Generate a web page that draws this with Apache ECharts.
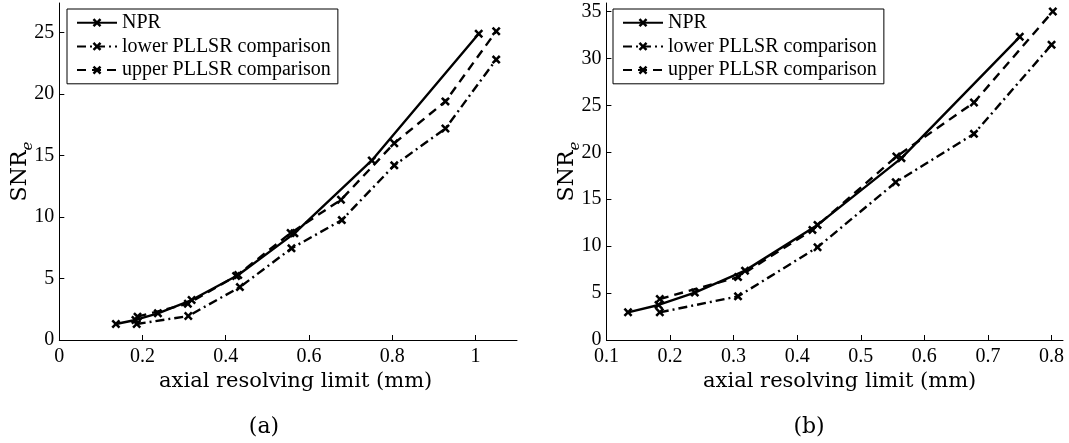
<!DOCTYPE html>
<html>
<head>
<meta charset="utf-8">
<script src="https://cdn.jsdelivr.net/npm/echarts@6/dist/echarts.min.js"></script>
<style>
	html, body { margin: 0; padding: 0; background: #fff; }
	#chart { width: 1069px; height: 443px; }
</style>
</head>
<body>
<div id="chart"></div>
<script>
// panel (a)
var nprXA = [0.136, 0.183, 0.237, 0.318, 0.430, 0.565, 0.751, 1.008];
var nprYA = [1.30, 1.63, 2.17, 3.25, 5.28, 8.67, 14.6, 24.9];
var lowerXA = [0.186, 0.310, 0.434, 0.558, 0.679, 0.805, 0.928, 1.050];
var lowerYA = [1.30, 1.95, 4.30, 7.45, 9.75, 14.2, 17.2, 22.8];
var upperXA = [0.188, 0.309, 0.425, 0.556, 0.677, 0.805, 0.928, 1.050];
var upperYA = [1.90, 2.95, 5.20, 8.70, 11.4, 16.0, 19.4, 25.1];
var xTicksA = [0, 0.2, 0.4, 0.6, 0.8, 1];
var yTicksA = [0, 5, 10, 15, 20, 25];

// panel (b)
var nprXB = [0.134, 0.182, 0.239, 0.318, 0.432, 0.564, 0.750];
var nprYB = [2.95, 3.73, 5.05, 7.39, 12.26, 19.37, 32.3];
var lowerXB = [0.184, 0.307, 0.432, 0.555, 0.678, 0.800];
var lowerYB = [2.95, 4.65, 9.88, 16.8, 21.96, 31.45];
var upperXB = [0.184, 0.307, 0.424, 0.556, 0.678, 0.802];
var upperYB = [4.37, 6.70, 11.73, 19.54, 25.3, 35.0];
var xTicksB = [0.1, 0.2, 0.3, 0.4, 0.5, 0.6, 0.7, 0.8];
var yTicksB = [0, 5, 10, 15, 20, 25, 30, 35];

var names = ['NPR', 'lower PLLSR comparison', 'upper PLLSR comparison'];

// bold x marker
var xMark = 'path://M0,2 L2,0 L5,3 L8,0 L10,2 L7,5 L10,8 L8,10 L5,7 L2,10 L0,8 L3,5 Z';
var tickFont = 'Liberation Serif';
var texFont = 'DejaVu Serif';

function pairs(xs, ys) {
	return xs.map(function(x, i) { return [x, ys[i]]; });
}

function lineSeries(name, xs, ys, dash, idx) {
	return {
		name : name,
		type : 'line',
		xAxisIndex : idx,
		yAxisIndex : idx,
		data : pairs(xs, ys),
		symbol : xMark,
		symbolSize : 9,
		itemStyle : { color : '#000' },
		lineStyle : { color : '#000', width : 2.4, type : dash },
		z : 3
	};
}

function xAxisOf(idx, min, max, ticks, padLeft) {
	return {
		gridIndex : idx,
		type : 'value',
		min : min,
		max : max,
		axisLine : { show : true, lineStyle : { color : '#000', width : 1 } },
		axisTick : { show : true, inside : true, length : 5, customValues : ticks, lineStyle : { color : '#000' } },
		axisLabel : {
			customValues : ticks,
			formatter : function(v) { return '{t|' + v + '}'; },
			rich : { t : { color : '#000', fontFamily : tickFont, fontSize : 20 } },
			margin : 7
		},
		splitLine : { show : false },
		name : 'axial resolving limit (mm)',
		nameLocation : 'middle',
		nameGap : 31,
		nameMoveOverlap : false,
		nameTextStyle : { color : '#000', fontFamily : texFont, fontSize : 21, padding : [0, 0, 0, padLeft] }
	};
}

function yAxisOf(idx, max, ticks, gap) {
	return {
		gridIndex : idx,
		type : 'value',
		min : 0,
		max : max,
		axisLine : { show : true, lineStyle : { color : '#000', width : 1 } },
		axisTick : { show : true, inside : true, length : 5, customValues : ticks, lineStyle : { color : '#000' } },
		axisLabel : {
			customValues : ticks,
			formatter : function(v) { return '{t|' + v + '}'; },
			rich : { t : { color : '#000', fontFamily : tickFont, fontSize : 20 } },
			margin : 5
		},
		splitLine : { show : false },
		name : '{n|SNR}{e|e}',
		nameLocation : 'middle',
		nameGap : gap,
		nameMoveOverlap : false,
		nameTextStyle : {
			rich : {
				n : { fontFamily : texFont, fontSize : 22, color : '#000', lineHeight : 30, verticalAlign : 'middle' },
				e : { fontFamily : texFont, fontSize : 15, fontStyle : 'italic', color : '#000', lineHeight : 12, verticalAlign : 'bottom' }
			}
		}
	};
}

function legendOf(left) {
	return {
		data : names,
		orient : 'vertical',
		left : left,
		top : 9,
		itemWidth : 40,
		itemHeight : 11,
		itemGap : 3.7,
		padding : [3.7, 7, 3.7, 9],
		borderColor : '#000',
		borderWidth : 1,
		borderRadius : 0,
		backgroundColor : '#fff',
		textStyle : { color : '#000', fontFamily : tickFont, fontSize : 20, lineHeight : 20 }
	};
}

var myChart = echarts.init(document.getElementById('chart'));
var option = {
	animation : false,
	backgroundColor : '#fff',
	textStyle : { fontFamily : tickFont, color : '#000' },
	grid : [
		{ left : 59.3, right : 552, top : 3, bottom : 103 },
		{ left : 606.4, right : 6, top : 3, bottom : 103 }
	],
	xAxis : [ xAxisOf(0, 0, 1.1, xTicksA, 15), xAxisOf(1, 0.1, 0.818, xTicksB, 10) ],
	yAxis : [ yAxisOf(0, 27.4, yTicksA, 24), yAxisOf(1, 35.9, yTicksB, 24) ],
	legend : [ legendOf(67), legendOf(613) ],
	series : [
		lineSeries(names[0], nprXA, nprYA, 'solid', 0),
		lineSeries(names[1], lowerXA, lowerYA, [9, 4, 2, 4], 0),
		lineSeries(names[2], upperXA, upperYA, [9, 6], 0),
		lineSeries(names[0], nprXB, nprYB, 'solid', 1),
		lineSeries(names[1], lowerXB, lowerYB, [9, 4, 2, 4], 1),
		lineSeries(names[2], upperXB, upperYB, [9, 6], 1)
	],
	graphic : [
		{ type : 'text', x : 264, y : 427, style : { text : '(a)', align : 'center', verticalAlign : 'middle', font : '22px "DejaVu Serif"', fill : '#000' } },
		{ type : 'text', x : 809, y : 427, style : { text : '(b)', align : 'center', verticalAlign : 'middle', font : '22px "DejaVu Serif"', fill : '#000' } }
	]
};
myChart.setOption(option);
</script>
</body>
</html>
